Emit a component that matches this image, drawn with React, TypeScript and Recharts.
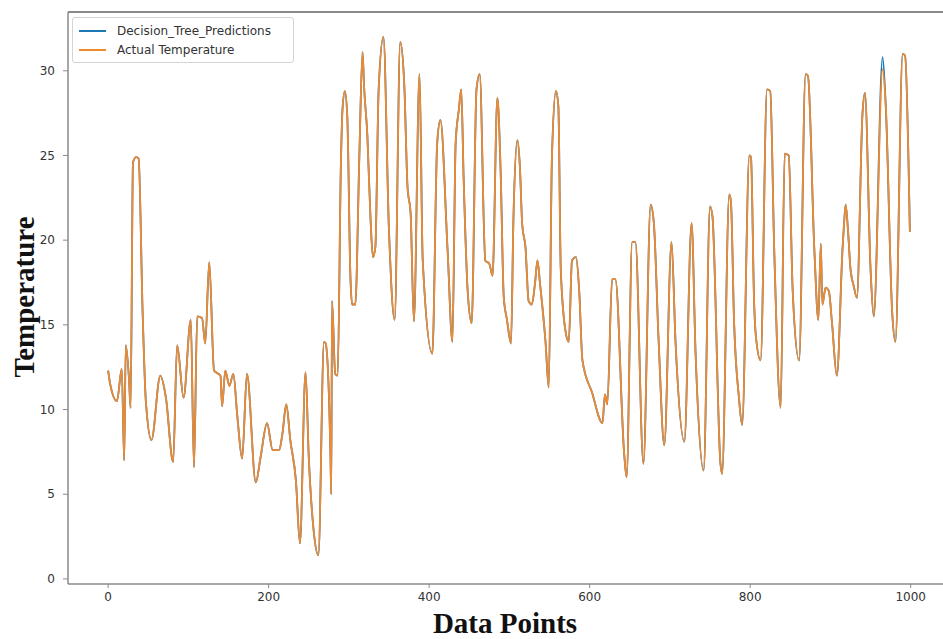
import { LineChart, Line, XAxis, YAxis, ReferenceLine, Label } from 'recharts';

// data point number (x) for each sampled reading
const pointIndex = [
  0, 3, 11, 17, 20, 22, 26, 28, 31, 35,
  38, 43, 47, 54, 65, 72, 81, 86, 94, 103,
  107, 111, 117, 121, 126, 132, 140, 142, 146, 151,
  156, 161, 167, 173, 184, 190, 198, 205, 213, 217,
  222, 227, 234, 239, 246, 250, 256, 262, 269, 271,
  277, 278, 279, 283, 286, 290, 292, 295, 298, 302,
  304, 308, 313, 317, 319, 323, 327, 330, 333, 337,
  343, 350, 357, 364, 369, 373, 377, 381, 388, 392,
  404, 410, 414, 423, 429, 433, 437, 440, 443, 448,
  453, 459, 463, 470, 475, 479, 485, 489, 493, 497,
  502, 505, 510, 513, 516, 520, 524, 528, 532, 535,
  538, 545, 549, 553, 558, 561, 564, 570, 574, 578,
  583, 587, 591, 603, 616, 619, 622, 628, 632, 643,
  646, 653, 657, 667, 676, 680, 686, 693, 702, 707,
  718, 727, 732, 742, 750, 753, 763, 765, 774, 776,
  780, 786, 790, 799, 801, 805, 807, 813, 821, 825,
  830, 838, 843, 848, 853, 861, 869, 872, 880, 885,
  888, 890, 894, 898, 902, 908, 915, 917, 919, 922,
  925, 929, 933, 940, 943, 950, 954, 965, 969, 977,
  981, 990, 993, 999,
];

const actualTemp = [
  12.3, 11.4, 10.5, 12.4, 7.0, 13.8, 11.8, 10.1, 24.6, 24.9,
  24.8, 15.7, 10.5, 8.2, 12.0, 10.7, 6.9, 13.8, 10.7, 15.3,
  6.6, 15.5, 15.4, 13.9, 18.7, 12.3, 12.0, 10.2, 12.3, 11.4,
  12.1, 9.6, 7.1, 12.1, 5.7, 7.2, 9.2, 7.6, 7.6, 8.5,
  10.3, 8.2, 5.8, 2.1, 12.2, 7.2, 2.9, 1.4, 14.0, 13.9,
  7.4, 5.0, 16.4, 12.1, 12.0, 24.4, 27.7, 28.8, 27.3, 17.7,
  16.2, 16.2, 24.9, 31.1, 29.0, 26.2, 21.2, 19.0, 19.6, 28.8,
  32.0, 20.5, 15.3, 31.7, 29.2, 23.2, 21.5, 15.2, 29.8, 18.8,
  13.3, 25.7, 27.1, 19.4, 14.0, 25.7, 27.7, 28.9, 23.6, 17.0,
  15.1, 28.9, 29.8, 18.8, 18.6, 17.9, 28.4, 24.2, 16.6, 15.3,
  13.9, 21.2, 25.9, 24.4, 20.9, 19.6, 16.4, 16.2, 17.5, 18.8,
  17.5, 14.0, 11.3, 24.9, 28.8, 27.9, 18.3, 14.6, 14.0, 18.8,
  19.0, 17.0, 12.9, 11.0, 9.2, 10.9, 10.3, 17.7, 17.7, 7.4,
  6.0, 19.9, 19.9, 6.8, 22.1, 21.0, 14.0, 7.9, 19.9, 14.0,
  8.1, 21.0, 13.3, 6.4, 22.0, 21.4, 6.8, 6.2, 22.7, 22.3,
  15.1, 10.7, 9.1, 25.0, 24.9, 16.2, 14.4, 12.9, 28.9, 28.8,
  19.4, 10.1, 25.1, 25.0, 17.0, 12.9, 29.8, 29.7, 19.4, 15.3,
  19.8, 16.2, 17.2, 17.0, 15.1, 12.0, 19.4, 21.0, 22.1, 20.5,
  18.3, 17.3, 16.6, 27.5, 28.7, 18.3, 15.5, 30.1, 27.9, 15.7,
  14.0, 31.0, 30.9, 20.5,
];

const predictedTemp = [
  12.3, 11.4, 10.5, 12.4, 7.0, 13.8, 11.8, 10.1, 24.6, 24.9,
  24.8, 15.7, 10.5, 8.2, 12.0, 10.7, 6.9, 13.8, 10.7, 15.3,
  6.6, 15.5, 15.4, 13.9, 18.7, 12.3, 12.0, 10.2, 12.3, 11.4,
  12.1, 9.6, 7.1, 12.1, 5.7, 7.2, 9.2, 7.6, 7.6, 8.5,
  10.3, 8.2, 5.8, 2.1, 12.2, 7.2, 2.9, 1.4, 14.0, 13.9,
  7.4, 5.0, 16.4, 12.1, 12.0, 24.4, 27.7, 28.8, 27.3, 17.7,
  16.2, 16.2, 24.9, 31.1, 29.0, 26.2, 21.2, 19.0, 19.6, 28.8,
  32.0, 20.5, 15.3, 31.7, 29.2, 23.2, 21.5, 15.2, 29.8, 18.8,
  13.3, 25.7, 27.1, 19.4, 14.0, 25.7, 27.7, 28.9, 23.6, 17.0,
  15.1, 28.9, 29.8, 18.8, 18.6, 17.9, 28.4, 24.2, 16.6, 15.3,
  13.9, 21.2, 25.9, 24.4, 20.9, 19.6, 16.4, 16.2, 17.5, 18.8,
  17.5, 14.0, 11.3, 24.9, 28.8, 27.9, 18.3, 14.6, 14.0, 18.8,
  19.0, 17.0, 12.9, 11.0, 9.2, 10.9, 10.3, 17.7, 17.7, 7.4,
  6.0, 19.9, 19.9, 6.8, 22.1, 21.0, 14.0, 7.9, 19.9, 14.0,
  8.1, 21.0, 13.3, 6.4, 22.0, 21.4, 6.8, 6.2, 22.7, 22.3,
  15.1, 10.7, 9.1, 25.0, 24.9, 16.2, 14.4, 12.9, 28.9, 28.8,
  19.4, 10.1, 25.1, 25.0, 17.0, 12.9, 29.8, 29.7, 19.4, 15.3,
  19.8, 16.2, 17.2, 17.0, 15.1, 12.0, 19.4, 21.0, 22.1, 20.5,
  18.3, 17.3, 16.6, 27.5, 28.7, 18.3, 15.5, 30.8, 27.9, 15.7,
  14.0, 31.0, 30.9, 20.5,
];

const xTicks = [0, 200, 400, 600, 800, 1000];
const yTicks = [0, 5, 10, 15, 20, 25, 30];
const seriesNames = ['Decision_Tree_Predictions', 'Actual Temperature'];

const BLUE = '#1f77b4';
const ORANGE = '#ef8a30';
const SPINE = '#8a8a8a';
const tickStyle = { fontFamily: 'DejaVu Sans', fontSize: 12, fill: '#333' };
const titleStyle = { fontFamily: 'Liberation Serif', fontWeight: 700, fontSize: 29, fill: '#111' };

const data = pointIndex.map((x, i) => ({
  x,
  predicted: predictedTemp[i],
  actual: actualTemp[i],
}));

// drawn as an overlay so it does not push the plot area down
function LegendBox() {
  const colors = [BLUE, ORANGE];
  return (
    <div
      style={{
        position: 'absolute',
        left: 72,
        top: 17,
        width: 222,
        height: 46,
        border: '1px solid #d4d4d4',
        borderRadius: 3,
        background: 'rgba(255,255,255,0.85)',
        fontFamily: 'DejaVu Sans',
        fontSize: 12,
        color: '#333',
        boxSizing: 'border-box',
        paddingTop: 3,
      }}
    >
      {seriesNames.map((name, i) => (
        <div key={name} style={{ display: 'flex', alignItems: 'center', height: 19 }}>
          <span style={{ display: 'inline-block', width: 27, height: 2, background: colors[i], marginLeft: 6, marginRight: 11 }} />
          <span>{name}</span>
        </div>
      ))}
    </div>
  );
}

export default function App() {
  return (
    <div style={{ position: 'absolute', left: 0, top: 0, width: 943, height: 639, overflow: 'hidden', background: '#fff' }}>
      <LineChart width={952} height={639} data={data} margin={{ top: 12, right: 2, left: 28, bottom: 25 }}>
        <XAxis
          dataKey="x"
          type="number"
          domain={[-50, 1049]}
          allowDataOverflow
          ticks={xTicks}
          tick={tickStyle}
          tickSize={4}
          tickMargin={4}
          height={30}
          axisLine={{ stroke: SPINE, strokeWidth: 1.5 }}
          tickLine={{ stroke: SPINE }}
        >
          <Label
            content={() => (
              <text x={505} y={633} textAnchor="middle" style={titleStyle}>
                Data Points
              </text>
            )}
          />
        </XAxis>
        <YAxis
          type="number"
          domain={[-0.3, 33.47]}
          allowDataOverflow
          ticks={yTicks}
          tick={tickStyle}
          tickSize={5}
          tickMargin={8}
          width={40}
          axisLine={{ stroke: SPINE, strokeWidth: 1.5 }}
          tickLine={{ stroke: SPINE }}
        >
          <Label
            content={() => (
              <text x={34} y={297} transform="rotate(-90 34 297)" textAnchor="middle" style={titleStyle}>
                Temperature
              </text>
            )}
          />
        </YAxis>
        <ReferenceLine y={33.47} stroke={SPINE} strokeWidth={2} />
        <Line
          type="monotone"
          dataKey="predicted"
          name={seriesNames[0]}
          stroke={BLUE}
          strokeWidth={1.8}
          dot={false}
          isAnimationActive={false}
        />
        <Line
          type="monotone"
          dataKey="actual"
          name={seriesNames[1]}
          stroke={ORANGE}
          strokeWidth={1.8}
          dot={false}
          isAnimationActive={false}
        />
      </LineChart>
      <LegendBox />
    </div>
  );
}
